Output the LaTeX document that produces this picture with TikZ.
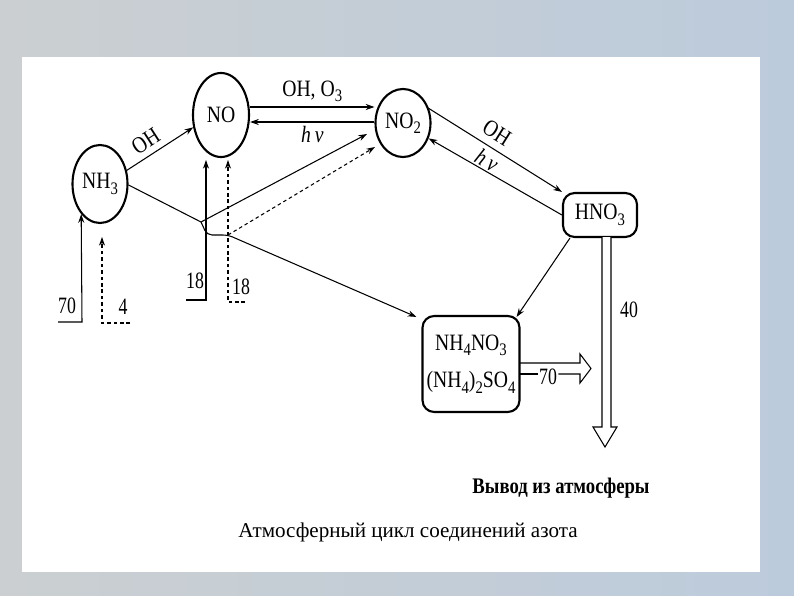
\documentclass[tikz,border=0pt]{standalone}
\usepackage{fontspec}
\setmainfont{Liberation Serif}
\newfontfamily\narrowfont[FakeStretch=0.84]{Liberation Serif}
\newfontfamily\numfont[FakeStretch=0.76]{Liberation Serif}
\usepackage{xcolor}
\usetikzlibrary{arrows.meta,calc,shapes.geometric}

\definecolor{bgleft}{RGB}{203,207,209}
\definecolor{bgright}{RGB}{188,203,220}
\newcommand{\chsub}[1]{\raisebox{-0.5ex}{\fontsize{15}{15}\selectfont #1}}

\begin{document}
\begin{tikzpicture}[x=0.03cm,y=-0.03cm,
  >={Stealth[length=2.6mm,width=1.8mm]},
  conn/.style={line width=0.9pt,->},
  dconn/.style={conn,dash pattern=on 3pt off 2.5pt},
  spec/.style={draw,ellipse,line width=1.8pt,inner sep=0pt,font=\narrowfont\fontsize{20}{22}\selectfont},
  salt/.style={draw,rounded corners=3.5mm,line width=1.8pt,inner sep=0pt,font=\narrowfont\fontsize{20}{22}\selectfont},
  lbl/.style={font=\narrowfont\fontsize{20}{22}\selectfont,inner sep=1pt},
  num/.style={font=\numfont\fontsize{20}{22}\selectfont,inner sep=1pt}]

% background
\shade[left color=bgleft,right color=bgright] (0,0) rectangle (794,595);
\fill[white] (22,57) rectangle (760,572);

% species
\node[spec,minimum width=1.65cm,minimum height=2.34cm] (NH3) at (100,184) {NH\chsub{3}};
\node[spec,minimum width=1.68cm,minimum height=2.52cm] (NO) at (221,115) {NO};
\node[spec,minimum width=1.65cm,minimum height=2.04cm] (NO2) at (403,123) {NO\chsub{2}};
\node[salt,minimum width=2.22cm,minimum height=1.32cm] (HNO3) at (600,215) {HNO\chsub{3}};
\node[salt,minimum width=2.91cm,minimum height=2.88cm,align=center] (salts) at (471,364)
  {NH\chsub{4}NO\chsub{3}\\[0.35cm](NH\chsub{4})\chsub{2}SO\chsub{4}};

% reactions
\draw[conn] (NH3.27) -- (NO.204) node[lbl,pos=0.4,above=4pt,sloped] {OH};
\draw[conn] ($(NO.east)+(0,-8)$) -- ($(NO2.west)+(0,-16)$)
  node[lbl,midway,above=3pt] {OH, O\chsub{3}};
\draw[conn] ($(NO2.west)+(0,-1)$) -- ($(NO.east)+(0,7)$)
  node[lbl,midway,below=2pt] {\itshape h\,ν};
\draw[conn] (NO2.29) -- (HNO3.north west) node[lbl,pos=0.45,above=5pt,sloped] {OH};
\draw[conn] (HNO3.west) -- (NO2.-31) node[lbl,pos=0.6,above=0pt,sloped] {\itshape h\,ν};
\draw[conn] ($(HNO3.south west)+(8,0)$) -- ($(salts.north east)+(-4,2)$);

% ammonia branches
\coordinate (A) at (201,222);
\coordinate (B) at (228,235);
\coordinate (a2) at (367,134);
\coordinate (b2) at (375,147);
\draw[conn] (NH3.-2) -- (A) -- (a2);
\draw[conn,rounded corners=1.5mm] (A) -- (207,235) -- (B) -- ($(salts.north west)+(-5,2)$);
\draw[dconn] (B) -- (b2);

% sources
\node[num] (n70) at (67,306) {70};
\node[num] (n4) at (123,307) {4};
\node[num] (n18) at (195,281) {18};
\node[num] (m18) at (241,287) {18};
\coordinate (f70) at (82,322);
\coordinate (f4) at (102,323);
\coordinate (f18) at (206,300);
\coordinate (g18) at (228,302);
\draw[conn] (58,322) -- (f70) -- (NH3.238);
\draw[dconn] (130,323) -- (f4) -- (102,237);
\draw[conn] (186,300) -- (f18) -- (206,160);
\draw[dconn] (245,302) -- (g18) -- (228,160);

% removal
\draw[line width=0.9pt,fill=white] (602,237) -- (602,427) -- (593,427) -- (605,447)
  -- (617,427) -- (611,427) -- (611,237);
\node[num] (n40) at (629,310) {40};
\node[num] (n70b) at (548,377) {70};
\draw[line width=0.9pt] (520,363) -- (580,363) -- (580,354) -- (591,368.5) -- (580,383)
  -- (580,374) -- (n70b.east |- 0,374);
\draw[line width=0.9pt] (520,374) -- (n70b.west |- 0,374);

\node[font=\narrowfont\bfseries\fontsize{19}{22}\selectfont] (out) at (561,488) {Вывод из атмосферы};
\node[font=\fontsize{18}{20}\selectfont] (title) at (408,532) {Атмосферный цикл соединений азота};
\end{tikzpicture}
\end{document}
